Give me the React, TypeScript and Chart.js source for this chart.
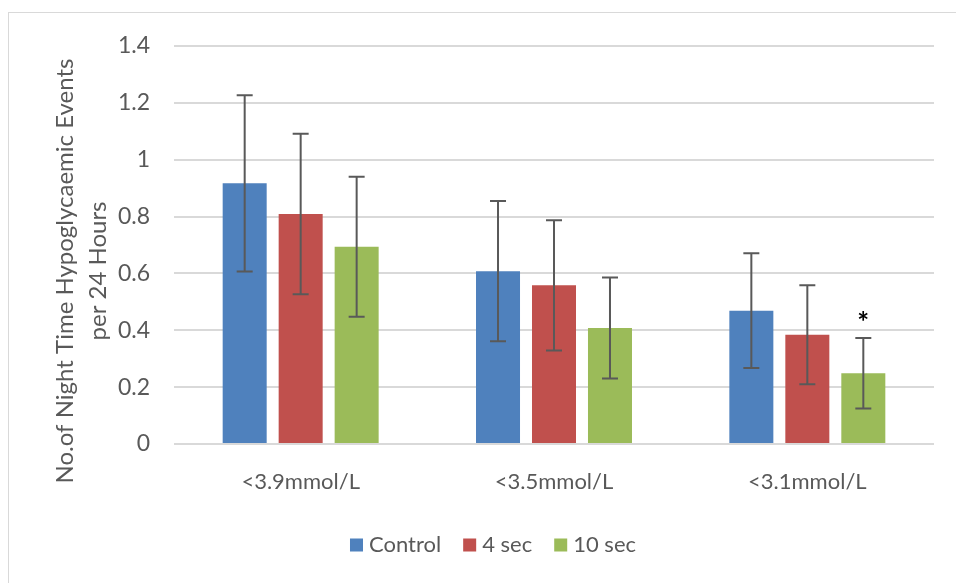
import React, { useEffect, useRef } from "react";
import { Chart, registerables } from "chart.js";

Chart.register(...registerables);

const categories = ["<3.9mmol/L", "<3.5mmol/L", "<3.1mmol/L"];
const seriesNames = ["Control", "4 sec", "10 sec"];
const controlValues = [0.917, 0.608, 0.469];
const sec4Values = [0.809, 0.558, 0.384];
const sec10Values = [0.694, 0.408, 0.249];
const controlErrors = [0.31, 0.247, 0.202];
const sec4Errors = [0.282, 0.229, 0.174];
const sec10Errors = [0.246, 0.178, 0.124];
const sec10Markers = ["", "", "*"];
const yTitleLines = ["No.of Night Time Hypoglycaemic Events", "per 24 Hours"];

const COLORS = ["#4F81BD", "#C0504D", "#9BBB59"];
const TEXT = "#595959";
const FONT = "Lato, 'Open Sans', sans-serif";

const errorBarPlugin = {
  id: "errorBars",
  afterDatasetsDraw(chart: any) {
    const { ctx } = chart;
    const yScale = chart.scales.y;
    chart.data.datasets.forEach((ds: any, di: number) => {
      const meta = chart.getDatasetMeta(di);
      meta.data.forEach((bar: any, i: number) => {
        const v = ds.data[i];
        const e = ds.errors[i];
        const yTop = yScale.getPixelForValue(v + e);
        const yBot = yScale.getPixelForValue(v - e);
        const x = bar.x;
        const cap = 8;
        ctx.save();
        ctx.strokeStyle = "#595959";
        ctx.lineWidth = 2;
        ctx.beginPath();
        ctx.moveTo(x, yTop);
        ctx.lineTo(x, yBot);
        ctx.moveTo(x - cap, yTop);
        ctx.lineTo(x + cap, yTop);
        ctx.moveTo(x - cap, yBot);
        ctx.lineTo(x + cap, yBot);
        ctx.stroke();
        const m = ds.markers ? ds.markers[i] : "";
        if (m) {
          ctx.fillStyle = "#000000";
          ctx.font = "bold 28px " + FONT;
          ctx.textAlign = "center";
          ctx.textBaseline = "middle";
          ctx.fillText(m, x, yTop - 15);
        }
        ctx.restore();
      });
    });
  },
};

const yTitlePlugin = {
  id: "yTitle",
  afterDraw(chart: any) {
    const { ctx } = chart;
    ctx.save();
    ctx.fillStyle = TEXT;
    ctx.font = "24px " + FONT;
    ctx.textAlign = "center";
    ctx.textBaseline = "middle";
    const cy = 271;
    const xs = [65, 98];
    yTitleLines.forEach((line, i) => {
      ctx.save();
      ctx.translate(xs[i], cy);
      ctx.rotate(-Math.PI / 2);
      ctx.fillText(line, 0, 0);
      ctx.restore();
    });
    ctx.restore();
  },
};

const legendPlugin = {
  id: "customLegend",
  afterDraw(chart: any) {
    const { ctx } = chart;
    const box = 13;
    const boxGap = 6;
    const itemGap = 22;
    const cx = 493;
    const cy = 545;
    ctx.save();
    ctx.font = "22px " + FONT;
    const items = chart.data.datasets.map((ds: any) => ({
      label: ds.label,
      color: ds.backgroundColor,
      w: ctx.measureText(ds.label).width,
    }));
    const total =
      items.reduce((s: number, it: any) => s + box + boxGap + it.w, 0) + itemGap * (items.length - 1);
    let x = cx - total / 2;
    ctx.textAlign = "left";
    ctx.textBaseline = "middle";
    items.forEach((it: any) => {
      ctx.fillStyle = it.color;
      ctx.fillRect(x, cy - box / 2, box, box);
      x += box + boxGap;
      ctx.fillStyle = TEXT;
      ctx.fillText(it.label, x, cy);
      x += it.w + itemGap;
    });
    ctx.restore();
  },
};

export default function App() {
  const ref = useRef<HTMLCanvasElement | null>(null);
  useEffect(() => {
    if (!ref.current) return;
    const chart = new Chart(ref.current, {
      type: "bar",
      data: {
        labels: categories,
        datasets: [
          { label: seriesNames[0], data: controlValues, errors: controlErrors, backgroundColor: COLORS[0] } as any,
          { label: seriesNames[1], data: sec4Values, errors: sec4Errors, backgroundColor: COLORS[1] } as any,
          { label: seriesNames[2], data: sec10Values, errors: sec10Errors, markers: sec10Markers, backgroundColor: COLORS[2] } as any,
        ],
      },
      options: {
        animation: false,
        responsive: true,
        maintainAspectRatio: false,
        layout: { padding: { left: 0, right: 22, top: 46, bottom: 69 } },
        datasets: { bar: { categoryPercentage: 0.663, barPercentage: 0.786 } },
        scales: {
          x: {
            grid: { display: false, drawTicks: false },
            border: { display: false },
            ticks: { color: TEXT, font: { family: FONT, size: 22 }, padding: 25 },
            afterFit(axis: any) { axis.height = 70; },
          },
          y: {
            min: 0,
            max: 1.4,
            grid: { color: "#d9d9d9", lineWidth: 2, drawTicks: false },
            border: { display: false },
            ticks: {
              stepSize: 0.2,
              color: TEXT,
              font: { family: FONT, size: 23 },
              padding: 24,
              callback: (v: any) => String(Number(Number(v).toFixed(1))),
            },
            afterFit(axis: any) { axis.width = 174; },
          },
        },
        plugins: {
          legend: { display: false },
          tooltip: { enabled: false },
        },
      },
      plugins: [errorBarPlugin, yTitlePlugin, legendPlugin],
    });
    return () => chart.destroy();
  }, []);
  return (
    <div style={{ position: "fixed", left: 0, top: 0, width: 956, height: 583, overflow: "hidden", background: "#fff" }}>
      <div style={{ position: "absolute", left: 8, top: 12, width: 1000, height: 700, border: "1px solid #d9d9d9" }} />
      <div style={{ position: "absolute", left: 0, top: 0, width: 956, height: 583 }}>
        <canvas ref={ref} />
      </div>
    </div>
  );
}
